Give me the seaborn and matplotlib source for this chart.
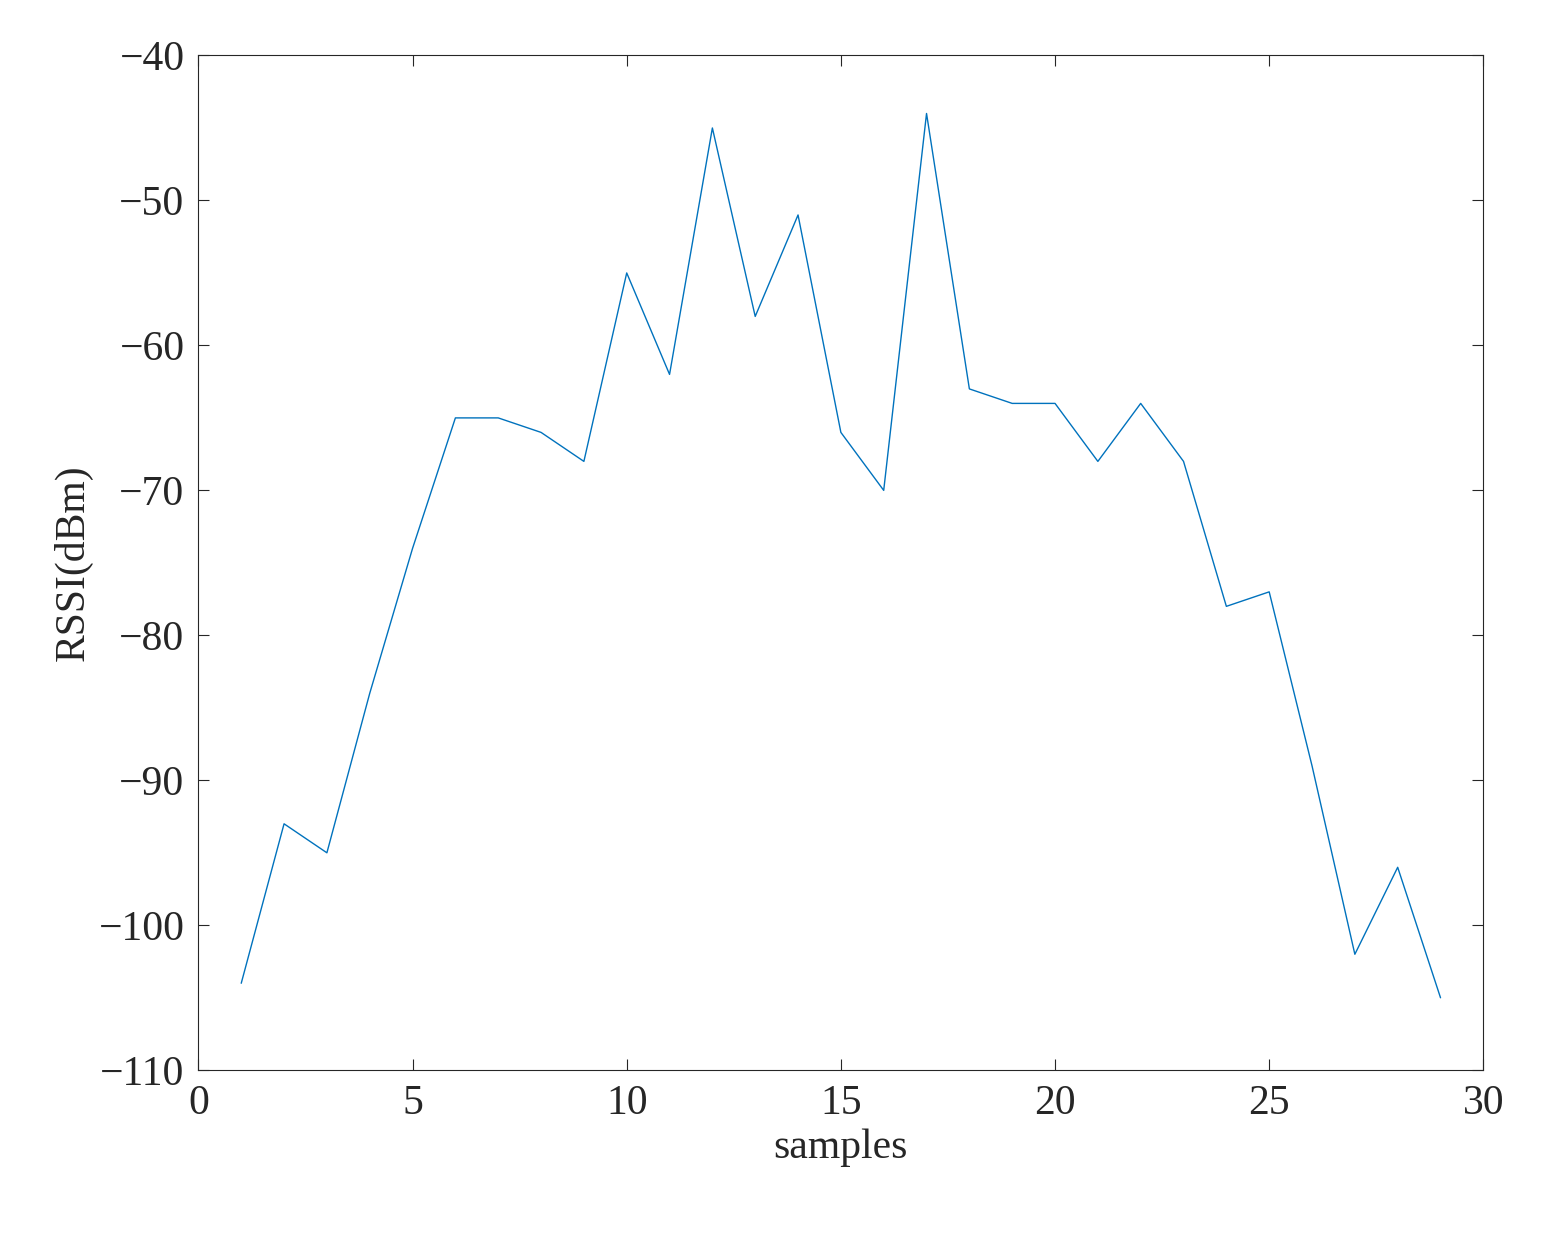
import matplotlib
matplotlib.use("Agg")
import matplotlib.pyplot as plt
import seaborn as sns
import pandas as pd

samples = list(range(1, 30))
rssi = [-104, -93, -95, -84, -74, -65, -65, -66, -68, -55, -62, -45, -58, -51,
        -66, -70, -44, -63, -64, -64, -68, -64, -68, -78, -77, -89, -102, -96, -105]

sns.set_theme(style="ticks")
plt.rcParams['font.family'] = ['Liberation Serif', 'DejaVu Serif']

fig = plt.figure(figsize=(15.5, 12.33), dpi=100)
ax = fig.add_axes([0.128, 0.132, 0.829, 0.823])
df = pd.DataFrame({"samples": samples, "rssi": rssi})
sns.lineplot(data=df, x="samples", y="rssi", ax=ax, color="#0072BD", linewidth=1)

ax.set_xlim(0, 30)
ax.set_ylim(-110, -40)
ax.set_xticks(range(0, 31, 5))
ax.set_yticks(range(-110, -39, 10))
ax.tick_params(direction="in", length=8, width=0.8, labelsize=30, colors="#262626",
               top=True, right=True, pad=10)
for s in ax.spines.values():
    s.set_linewidth(0.8)
    s.set_color("#262626")
ax.set_xlabel("samples", fontsize=30, color="#262626")
ax.set_ylabel("RSSI(dBm)", fontsize=30, color="#262626")

fig.savefig("out.png", dpi=100)
